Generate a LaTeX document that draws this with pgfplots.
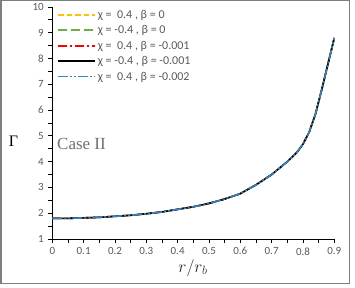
\documentclass[border=0pt]{standalone}
\usepackage{fontspec}
\setmainfont{Carlito}
\newfontfamily\serif{Liberation Serif}
\usepackage{pgfplots}
\usepackage{pgfplotstable}
\pgfplotsset{compat=1.18}
\definecolor{txtgray}{HTML}{595959}
\definecolor{casegray}{HTML}{707070}
\definecolor{framegray}{HTML}{7F7F7F}
\definecolor{cyellow}{HTML}{FFC000}
\definecolor{cgreen}{HTML}{70AD47}
\definecolor{cred}{HTML}{FF0000}
\definecolor{cblue}{HTML}{2E84C6}
\pgfplotstableread{
x y
0.00 1.80
0.05 1.80
0.10 1.82
0.15 1.84
0.20 1.88
0.25 1.92
0.30 1.98
0.35 2.05
0.40 2.15
0.45 2.25
0.50 2.38
0.55 2.55
0.60 2.76
0.65 3.10
0.70 3.50
0.75 4.00
0.78 4.35
0.80 4.68
0.82 5.15
0.84 5.85
0.86 6.80
0.88 7.80
0.90 8.80
}\datatab
\begin{document}
\begin{tikzpicture}[x=1pt,y=1pt]
\useasboundingbox (0,0) rectangle (355,288);
\draw[color=framegray, line width=1.3pt] (1,4.5) rectangle (349.5,287.3);
\begin{axis}[
  at={(52.3pt,49pt)}, anchor=south west,
  scale only axis, width=282pt, height=232pt,
  xmin=0, xmax=0.9, ymin=1, ymax=10,
  axis x line=bottom, axis y line=left,
  axis line style={-, black, line width=0.8pt},
  xtick={0,0.1,0.2,0.3,0.4,0.5,0.6,0.7,0.8,0.9},
  ytick={1,2,3,4,5,6,7,8,9,10},
  minor x tick num=1, minor y tick num=1,
  tick align=outside, major tick length=4pt, minor tick length=4pt,
  tick style={black, line width=0.8pt},
  ticklabel style={font=\fontsize{11}{12}\selectfont, text=txtgray},
  yticklabel style={xshift=-1pt},
  xticklabel style={/pgf/number format/fixed, /pgf/number format/precision=1, yshift=-1pt},
  /pgf/number format/assume math mode=true,
  legend style={at={(0.017,0.997)}, anchor=north west, draw=none, fill=none,
    font=\fontsize{12}{13}\selectfont, text=txtgray, row sep=1.8pt,
    inner sep=0pt},
  legend cell align=left,
  legend image code/.code={\draw[#1] (0pt,0pt) -- (37pt,0pt);},
  every axis plot/.append style={line width=1.6pt},
]
\addplot[cyellow, dash pattern=on 5.5pt off 3pt] table[x=x,y=y] {\datatab};
\addlegendentry{χ = \ 0.4 , β = 0}
\addplot[cgreen, dash pattern=on 9pt off 4pt] table[x=x,y=y] {\datatab};
\addlegendentry{χ = -0.4 , β = 0}
\addplot[cred, dash pattern=on 9pt off 3pt on 2pt off 3pt] table[x=x,y=y] {\datatab};
\addlegendentry{χ = \ 0.4 , β = -0.001}
\addplot[black, solid] table[x=x,y=y] {\datatab};
\addlegendentry{χ = -0.4 , β = -0.001}
\addplot[cblue, dash pattern=on 10pt off 2pt on 2pt off 2pt on 2pt off 2pt] table[x=x,y=y] {\datatab};
\addlegendentry{χ = \ 0.4 , β = -0.002}
\end{axis}
\node[text=black] at (13.5,146.5) {\serif\fontsize{16}{16}\selectfont Γ};
\node[text=casegray] at (81.5,144) {\serif\fontsize{17}{17}\selectfont Case II};
\node[text=black!85] at (193,20) {\fontsize{17}{17}\selectfont $r/r_b$};
\end{tikzpicture}
\end{document}
